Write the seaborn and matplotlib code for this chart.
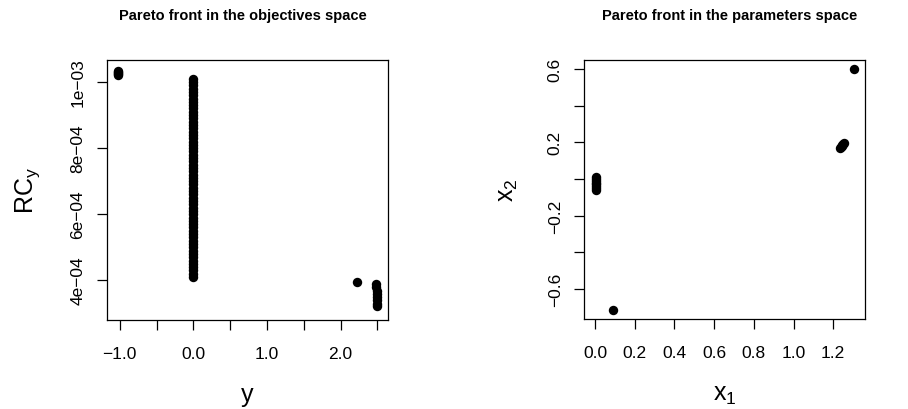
import matplotlib

matplotlib.use("Agg")

import matplotlib.pyplot as plt
import pandas as pd
import seaborn as sns

# objectives space: y vs RC_y
obj_y = [
    -1.03, -1.03, -1.03, -1.03, -1.03,
    -0.004, -0.004, -0.004, -0.005, -0.005, -0.005, -0.005, -0.005, -0.006, -0.006,
    -0.006, -0.006, -0.006, -0.007, -0.007, -0.007, -0.007, -0.007, -0.007, -0.007,
    -0.007, -0.007, -0.007, -0.007, -0.007, -0.007, -0.007, -0.007, -0.007, -0.007,
    -0.006, -0.006, -0.006, -0.006, -0.005, -0.005, -0.005, -0.004, -0.004, -0.004,
    -0.003, -0.003, -0.003, -0.002, -0.002, -0.002, -0.001, -0.001, 0.000, 0.000,
    0.000, 0.001, 0.001, 0.001, 0.002, 0.002, 0.002, 0.002, 0.002, 0.002,
    0.002,
    2.23,
    2.485, 2.487, 2.489, 2.491, 2.493, 2.495, 2.497, 2.499,
]
obj_rcy = [
    1.031e-3, 1.028e-3, 1.025e-3, 1.022e-3, 1.020e-3,
    1.009e-3, 9.99e-4, 9.89e-4, 9.79e-4, 9.69e-4, 9.59e-4, 9.49e-4, 9.39e-4, 9.29e-4, 9.19e-4,
    9.09e-4, 8.99e-4, 8.89e-4, 8.79e-4, 8.69e-4, 8.59e-4, 8.49e-4, 8.39e-4, 8.29e-4, 8.19e-4,
    8.09e-4, 7.99e-4, 7.89e-4, 7.79e-4, 7.69e-4, 7.59e-4, 7.49e-4, 7.39e-4, 7.29e-4, 7.19e-4,
    7.09e-4, 6.99e-4, 6.89e-4, 6.79e-4, 6.69e-4, 6.59e-4, 6.49e-4, 6.39e-4, 6.29e-4, 6.19e-4,
    6.09e-4, 5.99e-4, 5.89e-4, 5.79e-4, 5.69e-4, 5.59e-4, 5.49e-4, 5.39e-4, 5.29e-4, 5.19e-4,
    5.09e-4, 4.99e-4, 4.89e-4, 4.79e-4, 4.69e-4, 4.59e-4, 4.49e-4, 4.39e-4, 4.29e-4, 4.19e-4,
    4.09e-4,
    3.95e-4,
    3.88e-4, 3.78e-4, 3.68e-4, 3.58e-4, 3.48e-4, 3.38e-4, 3.28e-4, 3.20e-4,
]

# parameters space: x1 vs x2
par_x1 = [
    0.003, 0.003, 0.003, 0.003, 0.004, 0.004, 0.004, 0.004,
    0.09,
    1.234, 1.238, 1.242, 1.246, 1.250, 1.254,
    1.306,
]
par_x2 = [
    0.010, 0.000, -0.010, -0.020, -0.030, -0.040, -0.050, -0.060,
    -0.715,
    0.171, 0.176, 0.181, 0.185, 0.190, 0.194,
    0.600,
]

obj_xticks = [-1.0, -0.5, 0.0, 0.5, 1.0, 1.5, 2.0, 2.5]
obj_xlabels = ["\u22121.0", "", "0.0", "", "1.0", "", "2.0", ""]
obj_yticks = [4e-4, 6e-4, 8e-4, 1e-3]
obj_ylabels = ["4e\u221204", "6e\u221204", "8e\u221204", "1e\u221203"]
par_xticks = [0.0, 0.2, 0.4, 0.6, 0.8, 1.0, 1.2]
par_xlabels = ["0.0", "0.2", "0.4", "0.6", "0.8", "1.0", "1.2"]
par_yticks = [-0.6, -0.4, -0.2, 0.0, 0.2, 0.4, 0.6]
par_ylabels = ["\u22120.6", "", "\u22120.2", "", "0.2", "", "0.6"]

sns.set_style("ticks")
plt.rcParams["font.family"] = ["Liberation Sans", "DejaVu Sans"]
plt.rcParams["mathtext.fontset"] = "custom"
plt.rcParams["mathtext.rm"] = "Liberation Sans"
plt.rcParams["mathtext.it"] = "Liberation Sans"
plt.rcParams["text.color"] = "black"
plt.rcParams["axes.labelcolor"] = "black"
plt.rcParams["xtick.color"] = "black"
plt.rcParams["ytick.color"] = "black"

W, H = 908, 410
fig = plt.figure(figsize=(W / 100, H / 100), dpi=100)
ax1 = fig.add_axes([106.7 / W, (H - 321) / H, 281 / W, 260.3 / H])
ax2 = fig.add_axes([584.3 / W, (H - 320) / H, 280.7 / W, 259.3 / H])

obj = pd.DataFrame({"y": obj_y, "rcy": obj_rcy})
par = pd.DataFrame({"x1": par_x1, "x2": par_x2})

sns.scatterplot(data=obj, x="y", y="rcy", color="black", s=46, linewidth=0, ax=ax1)
sns.scatterplot(data=par, x="x1", y="x2", color="black", s=46, linewidth=0, ax=ax2)

ax1.set_xlim(-1.177, 2.641)
ax1.set_ylim(2.79e-4, 1.0665e-3)
ax2.set_xlim(-0.054, 1.36)
ax2.set_ylim(-0.764, 0.651)

for ax, xt, xl, yt, yl in [
    (ax1, obj_xticks, obj_xlabels, obj_yticks, obj_ylabels),
    (ax2, par_xticks, par_xlabels, par_yticks, par_ylabels),
]:
    ax.set_xticks(xt)
    ax.set_xticklabels(xl, fontsize=12.5)
    ax.set_yticks(yt)
    ax.set_yticklabels(yl, fontsize=12.5, rotation=90, va="center")
    ax.tick_params(direction="out", length=7.5, width=0.9, colors="black")
    ax.tick_params(axis="x", pad=11)
    ax.tick_params(axis="y", pad=8)
    for sp in ax.spines.values():
        sp.set_visible(True)
        sp.set_color("black")
        sp.set_linewidth(0.9)
    ax.grid(False)

ax1.set_xlabel("y", fontsize=18)
ax1.set_ylabel("RC$_\\mathrm{y}$", fontsize=18)
ax2.set_xlabel("x$_\\mathrm{1}$", fontsize=18)
ax2.set_ylabel("x$_\\mathrm{2}$", fontsize=18)
ax1.xaxis.set_label_coords(0.5, (321 - 395) / 260.3)
ax1.yaxis.set_label_coords((28 - 106.7) / 281, 0.5)
ax2.xaxis.set_label_coords(0.5, (320 - 395) / 259.3)
ax2.yaxis.set_label_coords((508 - 584.3) / 280.7, 0.5)
for ax in (ax1, ax2):
    ax.xaxis.label.set_va("center")
    ax.yaxis.label.set_va("center")

fig.text(243 / W, 1 - 16 / H, "Pareto front in the objectives space",
         ha="center", va="center", fontsize=10.5, fontweight="bold")
fig.text(730 / W, 1 - 16 / H, "Pareto front in the parameters space",
         ha="center", va="center", fontsize=10.5, fontweight="bold")

fig.savefig("out.png", dpi=100)
